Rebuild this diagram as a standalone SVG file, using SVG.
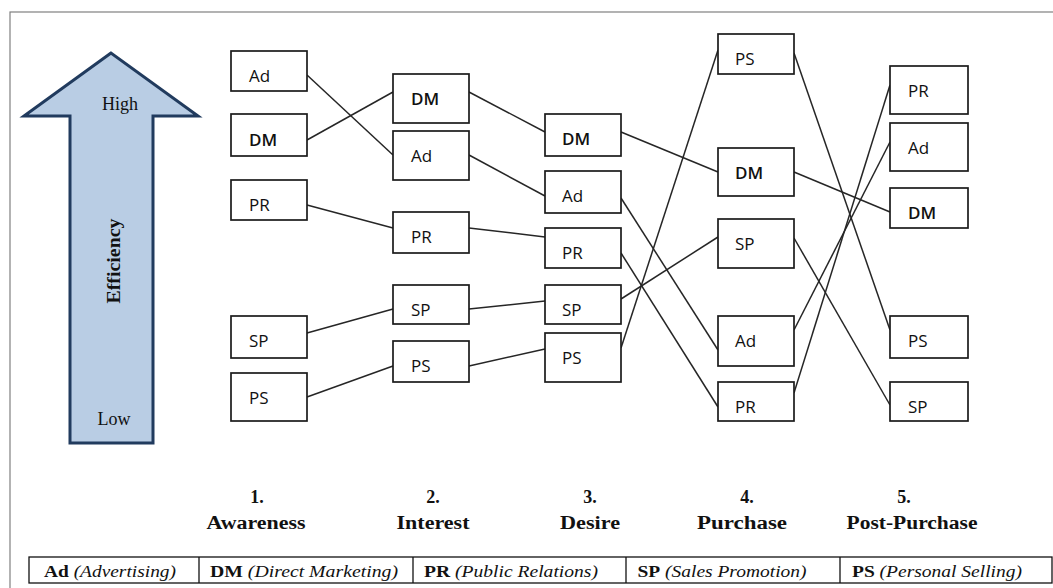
<svg xmlns="http://www.w3.org/2000/svg" width="1053" height="588" viewBox="0 0 1053 588">
<style>
.bx{fill:#fff;stroke:#1a1a1a;stroke-width:1.7}
.lb{font-family:"Open Sans","Liberation Sans",sans-serif;font-size:17px;fill:#111}
.dm{font-weight:600}
.cn line{stroke:#262626;stroke-width:1.5}
.st{font-family:"Liberation Serif",serif;font-size:18px;font-weight:bold;fill:#111;text-anchor:middle}
.lg{font-family:"Liberation Serif",serif;font-size:17px;fill:#111;text-anchor:middle}
.lg tspan.b{font-weight:bold}
.lg tspan.i{font-style:italic}
.ax{font-family:"Liberation Serif",serif;font-size:18px;fill:#111;text-anchor:middle}
</style>
<rect x="0" y="0" width="1053" height="588" fill="#fff"/>
<rect x="10" y="12" width="1070" height="600" fill="none" stroke="#808080" stroke-width="1.2"/>

<g id="efficiency-arrow">
<polygon points="111,53 24,116 70,116 70,443 153,443 153,116 198,116" fill="#b9cde4" stroke="#213b5e" stroke-width="3" stroke-linejoin="miter"/>
<text class="ax" x="120" y="110">High</text>
<text class="ax" x="114" y="425">Low</text>
<text class="ax" transform="translate(120,261) rotate(-90)" font-weight="bold" font-size="19" textLength="85" lengthAdjust="spacingAndGlyphs">Efficiency</text>
</g>

<g class="cn" id="connectors">
<line x1="307" y1="75" x2="393" y2="155"/>
<line x1="307" y1="140" x2="393" y2="92"/>
<line x1="307" y1="205" x2="393" y2="228"/>
<line x1="307" y1="333" x2="393" y2="309"/>
<line x1="307" y1="397" x2="393" y2="366"/>
<line x1="469" y1="92" x2="545" y2="132"/>
<line x1="469" y1="155" x2="545" y2="196"/>
<line x1="469" y1="228" x2="545" y2="237"/>
<line x1="469" y1="309" x2="545" y2="301"/>
<line x1="469" y1="366" x2="545" y2="349"/>
<line x1="621" y1="132" x2="718" y2="172"/>
<line x1="621" y1="198" x2="718" y2="350"/>
<line x1="621" y1="253" x2="718" y2="407"/>
<line x1="621" y1="299" x2="718" y2="237"/>
<line x1="621" y1="348" x2="718" y2="50"/>
<line x1="794" y1="53" x2="890" y2="330"/>
<line x1="794" y1="172" x2="890" y2="212"/>
<line x1="794" y1="238" x2="890" y2="405"/>
<line x1="794" y1="330" x2="890" y2="142"/>
<line x1="794" y1="393" x2="890" y2="85"/>
</g>

<g id="c1-ad"><rect class="bx" x="231" y="51" width="76" height="40"/><text class="lb" x="249" y="82">Ad</text></g>
<g id="c1-dm"><rect class="bx" x="231" y="114" width="76" height="42"/><text class="lb dm" x="249" y="146">DM</text></g>
<g id="c1-pr"><rect class="bx" x="231" y="180" width="76" height="40"/><text class="lb" x="249" y="211">PR</text></g>
<g id="c1-sp"><rect class="bx" x="231" y="316" width="76" height="42"/><text class="lb" x="249" y="347">SP</text></g>
<g id="c1-ps"><rect class="bx" x="231" y="373" width="76" height="48"/><text class="lb" x="249" y="404">PS</text></g>

<g id="c2-dm"><rect class="bx" x="393" y="74" width="76" height="49"/><text class="lb dm" x="411" y="105">DM</text></g>
<g id="c2-ad"><rect class="bx" x="393" y="131" width="76" height="49"/><text class="lb" x="411" y="162">Ad</text></g>
<g id="c2-pr"><rect class="bx" x="393" y="212" width="76" height="41"/><text class="lb" x="411" y="243">PR</text></g>
<g id="c2-sp"><rect class="bx" x="393" y="285" width="76" height="39"/><text class="lb" x="411" y="316">SP</text></g>
<g id="c2-ps"><rect class="bx" x="393" y="341" width="76" height="41"/><text class="lb" x="411" y="372">PS</text></g>

<g id="c3-dm"><rect class="bx" x="545" y="114" width="76" height="42"/><text class="lb dm" x="562" y="145">DM</text></g>
<g id="c3-ad"><rect class="bx" x="545" y="171" width="76" height="42"/><text class="lb" x="562" y="202">Ad</text></g>
<g id="c3-pr"><rect class="bx" x="545" y="228" width="76" height="40"/><text class="lb" x="562" y="259">PR</text></g>
<g id="c3-sp"><rect class="bx" x="545" y="285" width="76" height="39"/><text class="lb" x="562" y="316">SP</text></g>
<g id="c3-ps"><rect class="bx" x="545" y="333" width="76" height="49"/><text class="lb" x="562" y="364">PS</text></g>

<g id="c4-ps"><rect class="bx" x="718" y="34" width="76" height="40"/><text class="lb" x="735" y="65">PS</text></g>
<g id="c4-dm"><rect class="bx" x="718" y="148" width="76" height="48"/><text class="lb dm" x="735" y="179">DM</text></g>
<g id="c4-sp"><rect class="bx" x="718" y="219" width="76" height="49"/><text class="lb" x="735" y="250">SP</text></g>
<g id="c4-ad"><rect class="bx" x="718" y="316" width="76" height="50"/><text class="lb" x="735" y="347">Ad</text></g>
<g id="c4-pr"><rect class="bx" x="718" y="382" width="76" height="39"/><text class="lb" x="735" y="413">PR</text></g>

<g id="c5-pr"><rect class="bx" x="890" y="66" width="78" height="48"/><text class="lb" x="908" y="97">PR</text></g>
<g id="c5-ad"><rect class="bx" x="890" y="123" width="78" height="48"/><text class="lb" x="908" y="154">Ad</text></g>
<g id="c5-dm"><rect class="bx" x="890" y="188" width="78" height="40"/><text class="lb dm" x="908" y="219">DM</text></g>
<g id="c5-ps"><rect class="bx" x="890" y="316" width="78" height="42"/><text class="lb" x="908" y="347">PS</text></g>
<g id="c5-sp"><rect class="bx" x="890" y="382" width="78" height="39"/><text class="lb" x="908" y="413">SP</text></g>

<g id="stages">
<text class="st" x="257" y="503">1.</text>
<text class="st" x="256" y="529" textLength="99" lengthAdjust="spacingAndGlyphs">Awareness</text>
<text class="st" x="433" y="503">2.</text>
<text class="st" x="433" y="529" textLength="73" lengthAdjust="spacingAndGlyphs">Interest</text>
<text class="st" x="590" y="503">3.</text>
<text class="st" x="590" y="529" textLength="60" lengthAdjust="spacingAndGlyphs">Desire</text>
<text class="st" x="747" y="503">4.</text>
<text class="st" x="742" y="529" textLength="90" lengthAdjust="spacingAndGlyphs">Purchase</text>
<text class="st" x="904" y="503">5.</text>
<text class="st" x="912" y="529" textLength="131" lengthAdjust="spacingAndGlyphs">Post-Purchase</text>
</g>

<g id="legend">
<rect x="29" y="557" width="1023" height="26" fill="#fff" stroke="#111" stroke-width="1.3"/>
<line x1="199" y1="557" x2="199" y2="583" stroke="#111" stroke-width="1.3"/>
<line x1="413" y1="557" x2="413" y2="583" stroke="#111" stroke-width="1.3"/>
<line x1="626" y1="557" x2="626" y2="583" stroke="#111" stroke-width="1.3"/>
<line x1="840" y1="557" x2="840" y2="583" stroke="#111" stroke-width="1.3"/>
<text class="lg" x="110" y="577" textLength="132" lengthAdjust="spacingAndGlyphs"><tspan class="b">Ad</tspan> <tspan class="i">(Advertising)</tspan></text>
<text class="lg" x="304" y="577" textLength="188" lengthAdjust="spacingAndGlyphs"><tspan class="b">DM</tspan> <tspan class="i">(Direct Marketing)</tspan></text>
<text class="lg" x="511" y="577" textLength="174" lengthAdjust="spacingAndGlyphs"><tspan class="b">PR</tspan> <tspan class="i">(Public Relations)</tspan></text>
<text class="lg" x="722" y="577" textLength="169" lengthAdjust="spacingAndGlyphs"><tspan class="b">SP</tspan> <tspan class="i">(Sales Promotion)</tspan></text>
<text class="lg" x="937" y="577" textLength="170" lengthAdjust="spacingAndGlyphs"><tspan class="b">PS</tspan> <tspan class="i">(Personal Selling)</tspan></text>
</g>
</svg>
